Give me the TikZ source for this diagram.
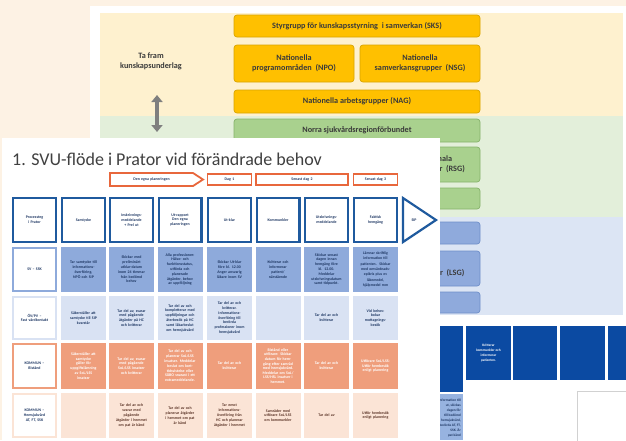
\documentclass[tikz,border=0pt]{standalone}
\usepackage{fontspec}
\setmainfont{Carlito}
\usetikzlibrary{arrows.meta}
\definecolor{cream}{HTML}{FDF2E4}
\definecolor{ylband}{HTML}{FEF1CF}
\definecolor{grband}{HTML}{E3EFDA}
\definecolor{blband}{HTML}{DCE5F4}
\definecolor{ylbox}{HTML}{FFC000}
\definecolor{ylline}{HTML}{D9A400}
\definecolor{grbox}{HTML}{A9D18E}
\definecolor{grline}{HTML}{86B26A}
\definecolor{blbox}{HTML}{8FAADC}
\definecolor{blline}{HTML}{6F8FC9}
\definecolor{boxtext}{HTML}{3A3A3A}
\definecolor{hdrblue}{HTML}{1F5A9E}
\definecolor{navy}{HTML}{1F3864}
\definecolor{orline}{HTML}{E8673C}
\definecolor{svfill}{HTML}{8EAADB}
\definecolor{ovfill}{HTML}{D9E2F3}
\definecolor{kbfill}{HTML}{EF9E7C}
\definecolor{hsfill}{HTML}{FBE4D6}
\definecolor{hstext}{HTML}{5B3427}
\definecolor{deepblue}{HTML}{0B4AA2}
\definecolor{titlegray}{HTML}{404040}
\definecolor{arrowgray}{HTML}{7F7F7F}
\definecolor{lightcell}{HTML}{97B3E0}
\newcommand\cellfont{\fontsize{3.9}{4.8}\selectfont\bfseries}
\newcommand\boxfont{\fontsize{8.2}{9.6}\selectfont\bfseries}
\begin{document}
\begin{tikzpicture}[x=1pt,y=-1pt,
  tcell/.style={inner sep=0pt,outer sep=0pt,align=center,text width=44pt,font=\cellfont},
  hdr/.style={tcell,draw=hdrblue,line width=2.2pt,fill=white,text=navy,minimum width=42.8pt,minimum height=43.8pt,text width=40pt},
  firstcol/.style={tcell,fill=white,line width=1.8pt,minimum width=43.2pt,text width=40pt},
  sv/.style={tcell,fill=svfill,text=navy,minimum width=45pt,minimum height=45pt},
  ov/.style={tcell,fill=ovfill,text=navy,minimum width=45pt,minimum height=44pt},
  kb/.style={tcell,fill=kbfill,text=white,minimum width=45pt,minimum height=46pt},
  hs/.style={tcell,fill=hsfill,text=hstext,minimum width=45pt,minimum height=45pt},
  orbox/.style={tcell,draw=orline,line width=1.8pt,fill=white,text=navy,minimum height=11.2pt},
  topbox/.style={line width=0.7pt,rounded corners=3pt,text=boxtext,font=\boxfont,align=center,inner sep=0pt,outer sep=0pt},
  ylb/.style={topbox,draw=ylline,fill=ylbox},
  grb/.style={topbox,draw=grline,fill=grbox},
  blb/.style={topbox,draw=blline,fill=blbox},
  deep/.style={fill=deepblue,inner sep=0pt,outer sep=0pt}
]
\useasboundingbox (0,0) rectangle (626,440);
\fill[cream] (0,0) rectangle (626,440);

% ---------- screenshot 1 (top, governance) ----------
\fill[white] (90,6) rectangle (626,326);
\fill[ylband] (100,13) rectangle (623,116);
\fill[grband] (100,116) rectangle (623,217);
\fill[blband] (100,217) rectangle (623,315);

\node[ylb,minimum width=246pt,minimum height=22pt] (sks) at (357,26) {Styrgrupp för kunskapsstyrning\ \ i samverkan (SKS)};
\node[ylb,minimum width=120pt,minimum height=37pt] (npo) at (294,63.5) {Nationella\\programområden\ \ (NPO)};
\node[ylb,minimum width=120pt,minimum height=37pt] (nsg) at (420,63.5) {Nationella\\samverkansgrupper\ \ (NSG)};
\node[ylb,minimum width=246pt,minimum height=23pt] (nag) at (357,101.5) {Nationella arbetsgrupper (NAG)};
\node[grb,minimum width=246pt,minimum height=23pt] (norra) at (357,130.5) {Norra sjukvårdsregionförbundet};
\node[grb,minimum width=120pt,minimum height=35pt] (rsg) at (420,164.5) {Sjukvårdsregionala\\samverkansgrupper\ \ (RSG)};
\node[grb,minimum width=246pt,minimum height=21pt] (gr3) at (357,198.5) {};
\node[blb,minimum width=246pt,minimum height=22pt] (bl1) at (357,233) {};
\node[blb,minimum width=120pt,minimum height=35pt] (lsg) at (420,268.5) {Lokala\\samverkansgrupper\ \ (LSG)};
\node[blb,minimum width=246pt,minimum height=21pt] (bl3) at (357,302.5) {};

\node[font=\boxfont,text=boxtext,align=center,inner sep=0pt] (tafram) at (151,61.5) {Ta fram\\kunskapsunderlag};
\coordinate (arrTop) at (157,95);
\coordinate (arrBot) at (157,132);
\draw[arrowgray,line width=4.5pt,{Triangle[width=11pt,length=7pt]}-{Triangle[width=11pt,length=7pt]}] (arrTop) -- (arrBot);

% ---------- screenshot 3 (bottom right) ----------
\fill[white] (440,321) rectangle (626,440);
\node[deep,minimum width=63pt,minimum height=66pt] (b1) at (431.5,359) {};
\node[deep,minimum width=45pt,minimum height=54pt,text=white,align=center,font=\fontsize{3.5}{5}\selectfont\bfseries] (b2) at (488.5,353) {Kvitterar\\kommunkler och\\informerar\\patienten.};
\node[deep,minimum width=44pt,minimum height=54pt] (b3) at (535,353) {};
\node[deep,minimum width=45pt,minimum height=54pt] (b4) at (582.5,353) {};
\node[deep,minimum width=22pt,minimum height=54pt] (b5) at (619,353) {};
\node[fill=lightcell,minimum width=63pt,minimum height=46pt,inner sep=0pt,outer sep=0pt] (lc) at (431.5,417) {};
\node[anchor=north east,align=right,text=navy,inner sep=0pt,font=\fontsize{3.5}{5}\selectfont\bfseries] (lctext) at (461,399)
 {information till\\ut, skickas\\dagen för\\till bedömd\\hemsjukvård,\\berörda AT, FT,\\SSK. Är\\pat känd};
\draw[draw=black!18,fill=white,line width=0.6pt] (577,391) rectangle (632,446);

% ---------- screenshot 2 (flow table) ----------
\fill[white] (2,138) rectangle (440,440);
\node[anchor=base west,font=\fontsize{18}{20}\selectfont,text=titlegray,inner sep=0pt] (title) at (12,165) {1. SVU-flöde i Prator vid förändrade behov};

% orange phase row
\draw[orline,line width=1.8pt,fill=white] (110,173) -- (193,173) -- (203,179.5) -- (193,186) -- (110,186) -- cycle;
\node[tcell,text=navy,text width=80pt] (o1) at (151.5,179.5) {Den egna planeringen};
\node[orbox,minimum width=43.2pt] (o2) at (229.5,179.5) {Dag 1};
\node[orbox,minimum width=92.2pt,text width=80pt] (o3) at (302,179.5) {Senast dag 2};
\node[orbox,minimum width=43.2pt] (o4) at (375.5,179.5) {Senast dag 3};

% blue header row
\node[hdr] (h0) at (34.5,220) {Processteg\\i Prator};
\node[hdr] (h1) at (83.5,220) {Samtycke};
\node[hdr] (h2) at (131.5,220) {Inskrivnings-\\meddelande\\+ Prel ut};
\node[hdr] (h3) at (180,220) {Ut-rapport\\Den egna\\planeringen};
\node[hdr] (h4) at (229.5,220) {Ut-klar};
\node[hdr] (h5) at (278,220) {Kommunkler};
\node[hdr] (h6) at (326.5,220) {Utskrivnings-\\meddelande};
\node[hdr] (h7) at (375.5,220) {Faktisk\\hemgång};
\draw[hdrblue,line width=2.2pt,line join=miter] (403,198) -- (436,220) -- (403,242) -- cycle;
\node[tcell,text=navy,text width=20pt] (h8) at (414,220) {SIP};

% row SV - SSK
\node[firstcol,draw=svfill,text=navy,minimum height=43.2pt] (a0) at (34.5,269.5) {SV -- SSK};
\node[sv] (a1) at (83.5,269.5) {Tar samtycke till\\informations-\\överföring,\\NPÖ och SIP};
\node[sv] (a2) at (131.5,269.5) {Skickar med\\preliminärt\\utklar-datum\\inom 24 timmar\\från bedömd\\behov};
\node[sv] (a3) at (180,269.5) {Alla professioner:\\Hälso- och\\funktionsstatus,\\utförda och\\planerade\\åtgärder, behov\\av uppföljning};
\node[sv] (a4) at (229.5,269.5) {Skickar Ut-klar\\före kl. 12.00\\Anger ansvarig\\läkare inom SV};
\node[sv] (a5) at (278,269.5) {Kvitterar och\\informerar\\patient/\\närstående};
\node[sv] (a6) at (326.5,269.5) {Skickar senast\\dagen innan\\hemgång före\\kl. 12.00.\\Meddelar\\utskrivningsdatum\\samt tidpunkt.};
\node[sv,font=\fontsize{3.8}{5.3}\selectfont\bfseries] (a7) at (375.5,269.5) {Lämnar skriftlig\\information till\\patienten.\ \ Skickar\\med omvårdnads-\\epikris plus ev\\läkemedel,\\hjälpmedel mm};

% row ÖV/PV
\node[firstcol,draw=ovfill,text=navy,minimum height=42.2pt] (b0) at (34.5,318) {ÖV/PV --\\Fast vårdkontakt};
\node[ov] (c1) at (83.5,318) {Säkerställer att\\samtycke till SIP\\kvarstår};
\node[ov] (c2) at (131.5,318) {Tar del av, svarar\\med pågående\\åtgärder på HC\\och kvitterar};
\node[ov] (c3) at (180,318) {Tar del av och\\kompletterar med\\uppföljningar och\\återbesök på HC\\samt läkarbeslut\\om hemsjukvård};
\node[ov] (c4) at (229.5,318) {Tar del av och\\kvitterar.\\Informations-\\överföring till\\berörda\\professioner inom\\hemsjukvård};
\node[ov] (c5) at (278,318) {};
\node[ov] (c6) at (326.5,318) {Tar del av och\\kvitterar};
\node[ov] (c7) at (375.5,318) {Vid behov:\\bokar\\mottagnings-\\besök};

% row KOMMUN - Bistånd
\node[firstcol,draw=kbfill,text=navy,minimum height=44.2pt] (d0) at (34.5,366) {KOMMUN --\\Bistånd};
\node[kb] (d1) at (83.5,366) {Säkerställer att\\samtycke\\gäller för\\uppgiftslämning\\av SoL/LSS\\insatser};
\node[kb] (d2) at (131.5,366) {Tar del av, svarar\\med pågående\\SoL/LSS insatser\\och kvitterar};
\node[kb] (d3) at (180,366) {Tar del av och\\planerar SoL/LSS\\insatser. Meddelar\\beslut om kort-\\tidsvistelse eller\\SÄBO snarast i ett\\extrameddelande.};
\node[kb] (d4) at (229.5,366) {Tar del av och\\kvitterar};
\node[kb,font=\fontsize{3.9}{4.6}\selectfont\bfseries] (d5) at (278,366) {Bistånd eller\\utförare: Skickar\\datum för hem-\\gång efter samråd\\med hemsjukvård.\\Meddelar om SoL/\\LSS/HSL insatser i\\hemmet.};
\node[kb] (d6) at (326.5,366) {Tar del av och\\kvitterar};
\node[kb] (d7) at (375.5,366) {Utförare SoL/LSS:\\Utför hembesök\\enligt planering};

% row KOMMUN - Hemsjukvård
\node[firstcol,draw=hsfill,text=navy,minimum height=43.2pt] (e0) at (34.5,415.5) {KOMMUN --\\Hemsjukvård\\AT, FT, SSK};
\node[hs] (e1) at (83.5,415.5) {};
\node[hs] (e2) at (131.5,415.5) {Tar del av och\\svarar med\\pågående\\åtgärder i hemmet\\om pat är känd};
\node[hs] (e3) at (180,415.5) {Tar del av och\\planerar åtgärder\\i hemmet om pat\\är känd};
\node[hs] (e4) at (229.5,415.5) {Tar emot\\informations-\\överföring från\\HC och planerar\\åtgärder i hemmet};
\node[hs] (e5) at (278,415.5) {Samråder med\\utförare SoL/LSS\\om kommunkler};
\node[hs] (e6) at (326.5,415.5) {Tar del av};
\node[hs] (e7) at (375.5,415.5) {Utför hembesök\\enligt planering};
\end{tikzpicture}
\end{document}
